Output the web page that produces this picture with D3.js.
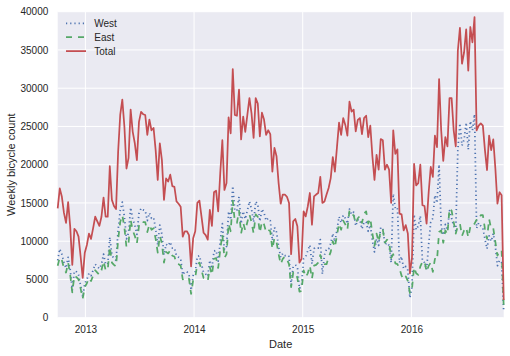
<!DOCTYPE html>
<html><head><meta charset="utf-8">
<script src="https://cdn.jsdelivr.net/npm/d3@7"></script>
<style>
body{margin:0;background:#fff;}
svg{display:block;font-family:"Liberation Sans",Arial,sans-serif;}
</style>
</head><body>
<svg id="chart" width="510" height="356"></svg>
<script>
// ---- data ----
const startWeek = "2012-09-30";           // first weekly bin
const seriesNames = ["West", "East", "Total"];
const yTicks = [0, 5000, 10000, 15000, 20000, 25000, 30000, 35000, 40000];
const xTickYears = [2013, 2014, 2015, 2016];

const total = [
14300,16900,15800,13700,12400,15100,11900,6900,11600,11300,
10600,8000,5200,8500,9500,11000,10300,11700,13200,12600,
12000,13200,15700,13200,13200,19800,15400,14600,14200,21700,
26500,28500,25000,19500,20900,27200,24300,22800,20600,25600,
26900,26600,26500,23900,25900,24500,24800,21900,18000,22800,
20600,15400,18200,17800,18700,
17200,17100,15200,14900,14500,10600,11300,11300,10800,6700,
10400,11300,15000,15300,13200,11100,10800,10200,14100,12000,
16400,16600,13900,18900,23200,16700,17600,26200,24100,32500,
26500,26400,29800,23300,26300,24300,26500,28700,26700,23500,
28700,28000,23700,26800,25900,23900,24500,24000,19100,22200,
21100,17600,14900,
16100,16100,15800,15000,8300,12600,12900,11950,7200,7700,
13900,13250,14550,16300,12150,15850,16100,16300,18400,15000,
15200,16100,16950,18250,21000,19100,22300,25500,23900,26100,
25200,23800,28250,26950,27200,24350,25850,26100,24000,26100,
26400,23600,25100,21100,18000,21300,19350,23350,23200,19350,
20000,19350,15000,24500,
21400,22000,13600,13500,11400,12100,11000,5800,7900,20100,
17300,17600,20000,14700,14600,12300,16400,19700,18400,23800,
22300,31200,24500,20500,23600,22400,28700,28700,24500,22400,
34900,37900,33200,34700,37700,32300,38000,36000,39300,24500,
25100,25400,25100,21900,19300,23800,21900,23300,19500,14900,
16400,16000,2300
];

const east = [
6800,7900,7500,6500,5900,7200,5600,3300,5500,5300,
5000,3800,2500,4000,4500,5200,4800,5500,6200,5900,
5600,6200,7400,6200,6200,9300,7200,6900,6700,10200,
12500,13400,11800,9200,9800,12800,11400,10700,9700,12000,
12600,12500,12500,11200,12200,11500,11700,10300,8500,10700,
9700,7200,8600,8400,8800,
8100,8000,7100,7000,6800,5000,5300,5300,5100,3100,
4900,5300,7000,7200,6200,5200,5100,4800,6600,5600,
7700,7800,6500,8900,10900,7800,8300,12300,11300,15300,
12500,12400,14000,11000,12400,11400,12500,13500,12500,11000,
13500,13200,11100,12600,12200,11200,11500,11300,9000,10400,
9900,8300,7000,
7700,8000,7600,7000,4000,5900,6000,5200,3400,3500,
6200,5300,5800,6800,5100,6800,6900,7200,8200,7200,
7000,7000,7900,8600,10000,9200,10800,12300,11500,12700,
12200,11500,14000,13400,13400,12300,13000,13300,12400,13600,
13900,12300,13000,11000,9400,11000,9900,11500,11500,9800,
10200,9900,7800,8300,
7100,7000,6400,5500,5000,5400,4800,3200,3800,6600,
5800,5600,6700,7300,7400,6000,6800,7200,6000,7700,
7500,11200,11400,9800,11400,10900,14300,14000,12500,11000,
12000,12300,10700,11400,11800,10500,11900,11800,12300,12800,
12700,13400,13400,11600,10300,12900,11600,11700,9900,8100,
8800,8800,1500
];

const west = [
7500,9000,8300,7200,6500,7900,6300,3600,6100,6000,
5600,4200,2700,4500,5000,5800,5500,6200,7000,6700,
6400,7000,8300,7000,7000,10500,8200,7700,7500,11500,
14000,15100,13200,10300,11100,14400,12900,12100,10900,13600,
14300,14100,14000,12700,13700,13000,13100,11600,9500,12100,
10900,8200,9600,9400,9900,
9100,9100,8100,7900,7700,5600,6000,6000,5700,3600,
5500,6000,8000,8100,7000,5900,5700,5400,7500,6400,
8700,8800,7400,10000,12300,8900,9300,13900,12800,17200,
14000,14000,15800,12300,13900,12900,14000,15200,14200,12500,
15200,14800,12600,14200,13700,12700,13000,12700,10100,11800,
11200,9300,7900,
8400,8100,8200,8000,4300,6700,6900,6700,3800,4200,
7700,7950,8750,9500,7050,9050,9200,9100,10200,5700,
8200,9000,9000,9700,11000,9900,11500,13200,12400,13400,
13000,12300,14200,13500,13800,12000,12800,12800,11600,12500,
12500,11300,12100,10100,8600,10300,9450,11800,11700,9550,
9800,9450,7200,16200,
14300,14400,7200,8000,6400,6700,6200,2600,4100,13500,
11500,12000,13300,7400,7200,6300,9600,12500,13000,16000,
15000,20000,12000,10800,12200,11500,14000,13000,12000,11400,
22000,25400,22500,23300,25500,22000,25700,24500,26600,11700,
12400,12000,11700,10300,9000,10700,10000,11000,9300,6800,
7500,7200,800
];

// ---- layout / style ----
const L = 57.7, R = 503.7, T = 11.7, B = 317.7;
const textColor = "#262626";
const styles = {
  West:  {color: "#4C72B0", dash: "1.2,3"},
  East:  {color: "#55A868", dash: "6,6"},
  Total: {color: "#C44E52", dash: null}
};
const valuesByName = {West: west, East: east, Total: total};

const svg = d3.select("#chart");
const start = d3.utcParse("%Y-%m-%d")(startWeek);
const dates = total.map((_, i) => d3.utcWeek.offset(start, i));

const x = d3.scaleUtc().domain(d3.extent(dates)).range([L, R]);
const y = d3.scaleLinear().domain([0, 40000]).range([B, T]);
const xTicks = xTickYears.map(yr => new Date(Date.UTC(yr, 0, 1)));

// background
svg.append("rect").attr("x", L).attr("y", T).attr("width", R - L).attr("height", B - T)
  .attr("fill", "#EAEAF2");

// grid
const grid = svg.append("g").attr("stroke", "#fff").attr("stroke-width", 1);
grid.selectAll("line.h").data(yTicks).join("line").attr("class", "h")
  .attr("x1", L).attr("x2", R).attr("y1", d => y(d)).attr("y2", d => y(d));
grid.selectAll("line.v").data(xTicks).join("line").attr("class", "v")
  .attr("y1", T).attr("y2", B).attr("x1", d => x(d)).attr("x2", d => x(d));

// axes
const yAxis = svg.append("g").attr("transform", `translate(${L},0)`)
  .call(d3.axisLeft(y).tickValues(yTicks).tickSize(0).tickPadding(9.4).tickFormat(d3.format("d")));
const xAxis = svg.append("g").attr("transform", `translate(0,${B})`)
  .call(d3.axisBottom(x).tickValues(xTicks).tickSize(0).tickPadding(8.3).tickFormat(d3.utcFormat("%Y")));
[yAxis, xAxis].forEach(g => {
  g.select(".domain").remove();
  g.selectAll("text").attr("fill", textColor).attr("font-size", 10)
    .attr("font-family", "'Liberation Sans', Arial, sans-serif");
});

// axis labels
svg.append("text").attr("x", (L + R) / 2).attr("y", 348).attr("text-anchor", "middle")
  .attr("font-size", 11).attr("fill", textColor).text("Date");
svg.append("text").attr("transform", `translate(14.6,${(T + B) / 2}) rotate(-90)`)
  .attr("text-anchor", "middle").attr("font-size", 11).attr("fill", textColor)
  .text("Weekly bicycle count");

// lines
const plot = svg.append("g");
seriesNames.forEach(name => {
  const st = styles[name];
  const vals = valuesByName[name];
  const line = d3.line().x((d, i) => x(dates[i])).y(d => y(d));
  plot.append("path").datum(vals)
    .attr("fill", "none").attr("stroke", st.color).attr("stroke-width", 1.75)
    .attr("stroke-linejoin", "round")
    .attr("stroke-dasharray", st.dash)
    .attr("d", line);
});

// legend
const legY = [23.3, 37.2, 51.1];
const leg = svg.append("g");
seriesNames.forEach((name, i) => {
  const st = styles[name];
  leg.append("line").attr("x1", 66).attr("x2", 86).attr("y1", legY[i]).attr("y2", legY[i])
    .attr("stroke", st.color).attr("stroke-width", 1.75).attr("stroke-dasharray", st.dash);
  leg.append("text").attr("x", 94.3).attr("y", legY[i] + 3.7).attr("font-size", 10)
    .attr("fill", textColor).text(name);
});
</script>
</body></html>
